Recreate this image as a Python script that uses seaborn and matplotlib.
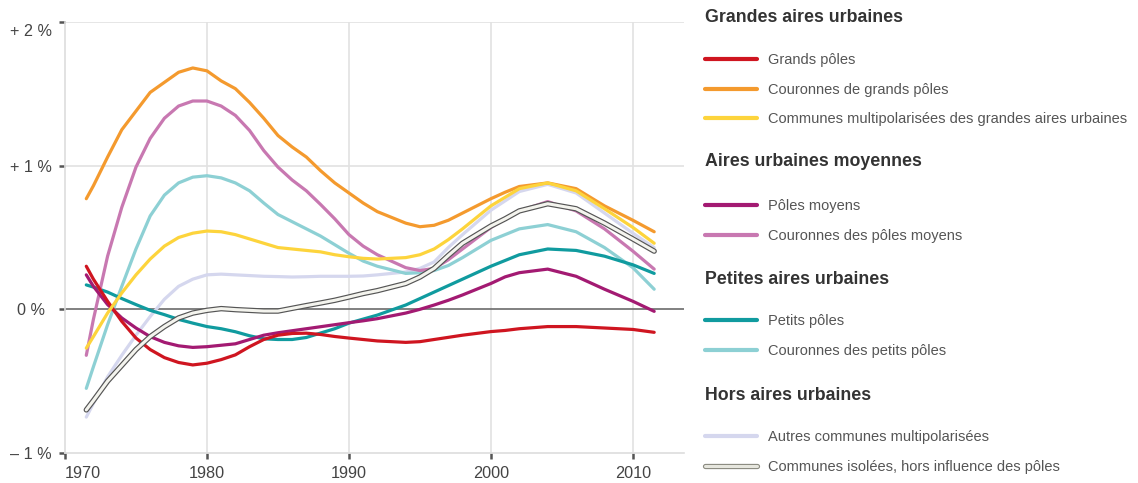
import numpy as np
import pandas as pd
import matplotlib.pyplot as plt
import matplotlib.patheffects as pe
from matplotlib.lines import Line2D
from matplotlib.transforms import ScaledTranslation
import seaborn as sns

# --- Values (annual variation, %) ---
annees = [1971.5, 1972, 1973, 1974, 1975, 1976, 1977, 1978, 1979, 1980, 1981,
          1982, 1983, 1984, 1985, 1986, 1987, 1988, 1989, 1990, 1991,
          1992, 1994, 1995, 1996, 1997, 1998, 2000, 2001, 2002, 2004, 2006, 2008, 2010, 2011.5]

grands_poles = [0.30, 0.21, 0.056, -0.084, -0.20, -0.28, -0.336, -0.37, -0.387, -0.375, -0.35,
                -0.317, -0.26, -0.21, -0.18, -0.168, -0.166, -0.175, -0.189, -0.20, -0.21,
                -0.22, -0.23, -0.225, -0.21, -0.195, -0.18, -0.155, -0.147, -0.135, -0.12, -0.12,
                -0.13, -0.14, -0.16]
couronnes_grands = [0.77, 0.86, 1.06, 1.25, 1.38, 1.51, 1.58, 1.65, 1.68, 1.66, 1.59,
                    1.536, 1.44, 1.33, 1.21, 1.13, 1.06, 0.965, 0.88, 0.81, 0.74,
                    0.68, 0.60, 0.575, 0.585, 0.62, 0.67, 0.77, 0.815, 0.855, 0.88, 0.84,
                    0.72, 0.62, 0.54]
multipol_grandes = [-0.27, -0.19, -0.026, 0.114, 0.24, 0.35, 0.44, 0.50, 0.53, 0.545, 0.54,
                    0.52, 0.49, 0.46, 0.43, 0.42, 0.41, 0.40, 0.38, 0.366, 0.355,
                    0.35, 0.36, 0.38, 0.42, 0.485, 0.56, 0.72, 0.78, 0.84, 0.88, 0.825,
                    0.70, 0.57, 0.46]
poles_moyens = [0.24, 0.16, 0.033, -0.06, -0.13, -0.19, -0.23, -0.254, -0.265, -0.26, -0.25,
                -0.24, -0.21, -0.18, -0.163, -0.149, -0.135, -0.121, -0.107, -0.093, -0.08,
                -0.065, -0.026, 0.0, 0.03, 0.063, 0.10, 0.18, 0.226, 0.255, 0.28, 0.23,
                0.14, 0.056, -0.014]
couronnes_moyens = [-0.32, -0.07, 0.37, 0.71, 0.99, 1.19, 1.33, 1.415, 1.45, 1.45, 1.415,
                    1.35, 1.245, 1.105, 0.99, 0.90, 0.825, 0.73, 0.63, 0.52, 0.44,
                    0.38, 0.29, 0.27, 0.285, 0.345, 0.42, 0.57, 0.63, 0.685, 0.75, 0.685,
                    0.56, 0.405, 0.28]
petits_poles = [0.17, 0.155, 0.12, 0.075, 0.033, -0.007, -0.037, -0.07, -0.096, -0.12, -0.135,
                -0.156, -0.184, -0.205, -0.21, -0.21, -0.196, -0.165, -0.135, -0.096, -0.068,
                -0.04, 0.03, 0.075, 0.12, 0.165, 0.21, 0.30, 0.34, 0.38, 0.42, 0.41,
                0.37, 0.31, 0.25]
couronnes_petits = [-0.55, -0.40, -0.107, 0.16, 0.42, 0.65, 0.795, 0.88, 0.92, 0.93, 0.915,
                    0.88, 0.825, 0.74, 0.66, 0.61, 0.56, 0.51, 0.45, 0.39, 0.336,
                    0.30, 0.25, 0.255, 0.27, 0.305, 0.36, 0.48, 0.52, 0.56, 0.59, 0.54,
                    0.43, 0.29, 0.14]
autres_multipol = [-0.75, -0.655, -0.47, -0.32, -0.18, -0.05, 0.07, 0.16, 0.21, 0.24, 0.245,
                   0.24, 0.235, 0.23, 0.228, 0.225, 0.227, 0.23, 0.23, 0.23, 0.232,
                   0.24, 0.26, 0.285, 0.33, 0.43, 0.52, 0.69, 0.755, 0.82, 0.87, 0.81,
                   0.67, 0.53, 0.43]
communes_isolees = [-0.70, -0.635, -0.50, -0.39, -0.28, -0.19, -0.12, -0.06, -0.026, -0.007, 0.005,
                    -0.002, -0.007, -0.012, -0.012, 0.007, 0.026, 0.044, 0.063, 0.086, 0.11,
                    0.13, 0.18, 0.225, 0.285, 0.375, 0.46, 0.58, 0.63, 0.685, 0.735, 0.70,
                    0.60, 0.49, 0.405]

groupes = ["Grandes aires urbaines", "Aires urbaines moyennes",
           "Petites aires urbaines", "Hors aires urbaines"]

series = [
    # (label, values, colour, group index)
    ("Grands pôles", grands_poles, "#cf1520", 0),
    ("Couronnes de grands pôles", couronnes_grands, "#f49a2e", 0),
    ("Communes multipolarisées des grandes aires urbaines", multipol_grandes, "#fdd43c", 0),
    ("Pôles moyens", poles_moyens, "#a31a72", 1),
    ("Couronnes des pôles moyens", couronnes_moyens, "#c878b1", 1),
    ("Petits pôles", petits_poles, "#109b9f", 2),
    ("Couronnes des petits pôles", couronnes_petits, "#8dd0d4", 2),
    ("Autres communes multipolarisées", autres_multipol, "#d5d7ee", 3),
    ("Communes isolées, hors influence des pôles", communes_isolees, "#f4f4ee", 3),
]
draw_order = [7, 6, 5, 4, 3, 0, 1, 2, 8]

sns.set_style("white")
plt.rcParams['font.family'] = ['Liberation Sans', 'DejaVu Sans']

fig = plt.figure(figsize=(11.38, 4.83), dpi=100)
ax = fig.add_axes([65 / 1138, 30 / 483, 619 / 1138, 431 / 483])

outline = [pe.Stroke(linewidth=3.9, foreground="#555555"), pe.Normal()]

for k, i in enumerate(draw_order):
    label, vals, col, g = series[i]
    df = pd.DataFrame({"annee": annees, "taux": vals})
    sns.lineplot(data=df, x="annee", y="taux", ax=ax, color=col, lw=2.3,
                 zorder=3 + k)
    if i == 8:
        ax.lines[-1].set_linewidth(2.2)
        ax.lines[-1].set_path_effects(outline)

# grid and reference line
for yr in [1980, 1990, 2000, 2010]:
    ax.axvline(yr, color="#e2e2e2", lw=1.2, zorder=0)
for v in [1, 2]:
    ax.axhline(v, color="#e2e2e2", lw=1.2, zorder=0)
ax.axhline(0, color="#6b6b6b", lw=1.2, zorder=1)

ax.set_xlim(1970, 2013.6)
ax.set_ylim(-1, 2)
ax.set_xticks([1970, 1980, 1990, 2000, 2010])
ax.set_yticks([-1, 0, 1, 2])
ax.set_yticklabels(["– 1 %", "0 %", "+ 1 %", "+ 2 %"])
ax.set_xlabel("")
ax.set_ylabel("")

for s in ["top", "right"]:
    ax.spines[s].set_visible(False)
for s in ["left", "bottom"]:
    ax.spines[s].set_color("#dddddd")
    ax.spines[s].set_linewidth(1.2)

ax.tick_params(axis="both", which="both", direction="out", length=4, width=1.8,
               color="#555555", labelcolor="#444444", labelsize=11.7,
               left=True, bottom=True)
ax.tick_params(axis="y", pad=20.5)
ax.tick_params(axis="x", pad=5)
for t in ax.get_yticklabels():
    t.set_horizontalalignment("center")
top_lab = ax.get_yticklabels()[-1]
top_lab.set_transform(top_lab.get_transform() + ScaledTranslation(0, -6 / 72, fig.dpi_scale_trans))
ax.get_xticklabels()[0].set_horizontalalignment("left")

# legend, one block per group
heading_y = [18, 162, 280, 396]
first_item_y = [60, 206, 321, 437]
for g, titre in enumerate(groupes):
    fig.text(705 / 1138, 1 - heading_y[g] / 483, titre, fontsize=12.8,
             fontweight="bold", color="#333333", va="center", ha="left")
    handles = []
    for label, vals, col, gi in series:
        if gi != g:
            continue
        if label.startswith("Communes isolées"):
            h = Line2D([], [], color="#e6e6de", lw=2.2, label=label,
                       path_effects=[pe.Stroke(linewidth=3.8, foreground="#8a8a80"), pe.Normal()])
        else:
            h = Line2D([], [], color=col, lw=3.0, label=label)
        handles.append(h)
    leg = fig.legend(handles=handles, loc="upper left",
                     bbox_to_anchor=(705 / 1138, 1 - (first_item_y[g] - 7) / 483),
                     frameon=False, fontsize=10.5, borderpad=0, borderaxespad=0,
                     handlelength=3.55, handletextpad=0.75, labelspacing=1.08)
    for t in leg.get_texts():
        t.set_color("#555555")

fig.savefig("out.png", dpi=100)
